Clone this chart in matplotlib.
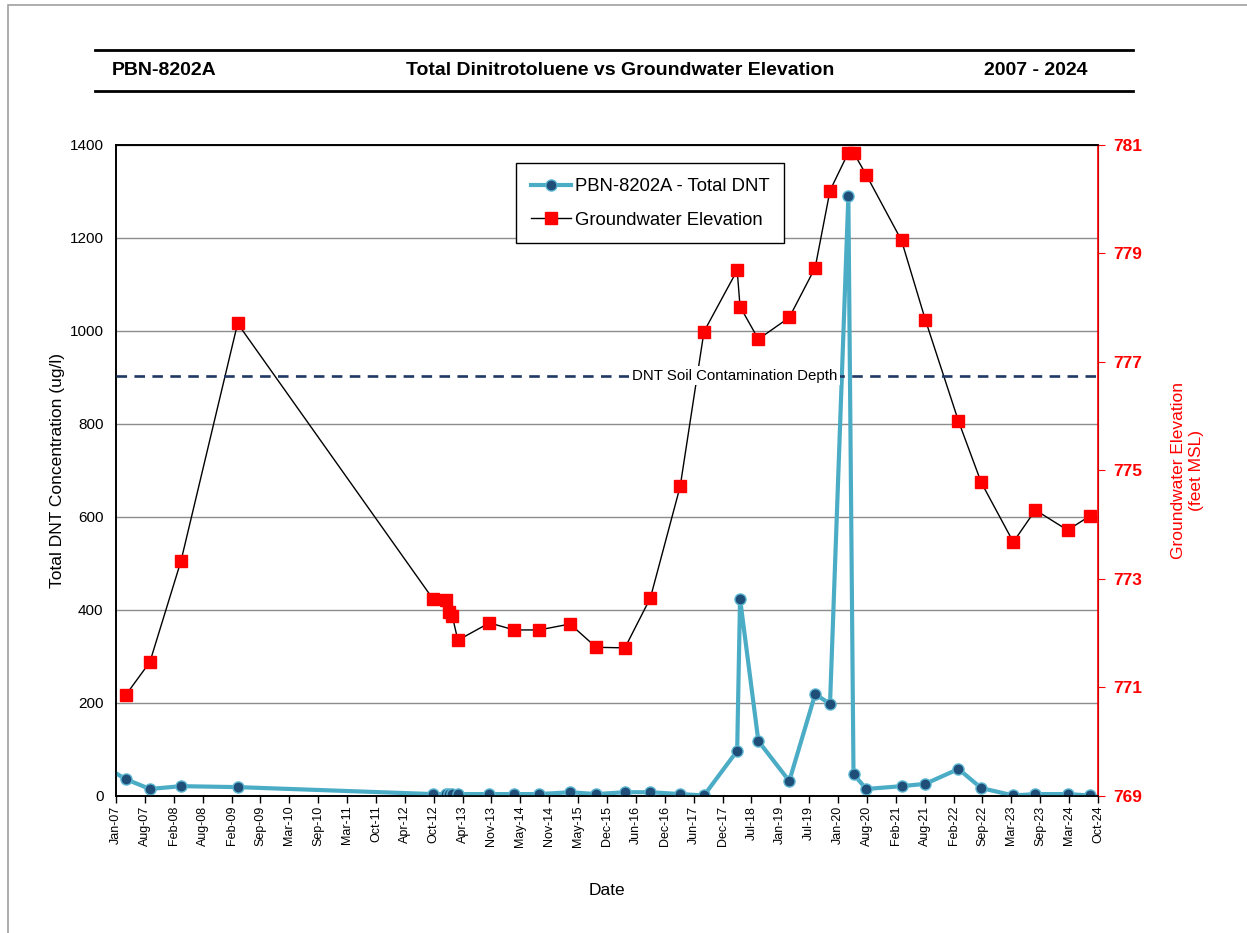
import numpy as np
import matplotlib
matplotlib.use("Agg")
import matplotlib.pyplot as plt
import matplotlib.dates as mdates
from matplotlib.lines import Line2D
from matplotlib.patches import Rectangle
from matplotlib.transforms import blended_transform_factory

plt.rcParams['font.family'] = ['Liberation Sans', 'DejaVu Sans']

# sample dates (shared by both series)
dates = ['2007-03-07', '2007-08-13', '2008-03-05', '2009-03-14', '2012-09-24',
         '2012-12-19', '2013-01-08', '2013-01-30', '2013-03-07', '2013-10-01',
         '2014-03-14', '2014-08-26', '2015-03-18', '2015-09-06', '2016-03-14',
         '2016-08-29', '2017-03-14', '2017-08-18', '2018-03-25', '2018-04-13',
         '2018-08-12', '2019-03-04', '2019-08-22', '2019-11-28', '2020-03-28',
         '2020-05-01', '2020-07-24', '2021-03-14', '2021-08-18', '2022-03-25',
         '2022-08-22', '2023-03-22', '2023-08-15', '2024-03-14', '2024-08-08']

# one earlier DNT sample falls left of the axis (line enters from the edge)
dnt_dates = ['2006-09-15'] + dates
dnt = [70, 36, 15, 21, 19, 4, 4, 4, 4, 4, 4, 4, 4, 8, 4, 8, 8, 4, 1, 97, 424,
       118, 32, 219, 198, 1290, 47, 15, 21, 26, 58, 17, 1, 4, 4, 1]

gw_elev = [770.86, 771.47, 773.33, 777.71, 772.63, 772.61, 772.39, 772.31,
           771.87, 772.19, 772.06, 772.06, 772.17, 771.74, 771.73, 772.65,
           774.71, 777.56, 778.69, 778.02, 777.42, 777.82, 778.74, 780.16,
           780.86, 780.86, 780.45, 779.24, 777.78, 775.91, 774.78, 773.68,
           774.27, 773.90, 774.16]

soil_depth = 776.75

tick_labels = ['Jan-07', 'Aug-07', 'Feb-08', 'Aug-08', 'Feb-09', 'Sep-09',
               'Mar-10', 'Sep-10', 'Mar-11', 'Oct-11', 'Apr-12', 'Oct-12',
               'Apr-13', 'Nov-13', 'May-14', 'Nov-14', 'May-15', 'Dec-15',
               'Jun-16', 'Dec-16', 'Jun-17', 'Dec-17', 'Jul-18', 'Jan-19',
               'Jul-19', 'Jan-20', 'Aug-20', 'Feb-21', 'Aug-21', 'Feb-22',
               'Sep-22', 'Mar-23', 'Sep-23', 'Mar-24', 'Oct-24']

x_start = mdates.datestr2num('2007-01-01')
x_end = mdates.datestr2num('2024-10-01')

fig = plt.figure(figsize=(12.47, 9.33), dpi=100)
ax = fig.add_axes([0.093, 0.1469, 0.7875, 0.6977])
ax2 = ax.twinx()

# DNT series
ax.plot(mdates.datestr2num(dnt_dates), dnt, color='#4BACC6', lw=3,
        marker='o', ms=8, mfc='#1F4E79', mec='#5DB7D2', mew=1,
        label='PBN-8202A - Total DNT', zorder=3)
ax.set_ylim(0, 1400)
ax.set_yticks(np.arange(0, 1401, 200))
ax.yaxis.grid(True, color='#8C8C8C', lw=1)
ax.set_axisbelow(True)
ax.tick_params(axis='y', length=0, labelsize=11, pad=9)
ax.set_ylabel('Total DNT Concentration (ug/l)', fontsize=12.5, labelpad=3)

ax.set_xlim(x_start, x_end)
ax.set_xticks(np.linspace(x_start, x_end, len(tick_labels)))
ax.set_xticklabels(tick_labels, rotation=90, fontsize=9)
ax.tick_params(axis='x', direction='out', length=5, width=1, pad=2)
ax.set_xlabel('Date', fontsize=12.5, labelpad=26)

# groundwater series
ax2.plot(mdates.datestr2num(dates), gw_elev, color='black', lw=1,
         marker='s', ms=8, mfc='#FF0000', mec='#FF0000',
         label='Groundwater Elevation', zorder=3)
ax2.set_ylim(769, 781)
ax2.set_yticks(np.arange(769, 782, 2))
ax2.tick_params(axis='y', colors='#FF0000', direction='out', length=5,
                labelsize=12.5, pad=6)
for lab in ax2.get_yticklabels():
    lab.set_fontweight('bold')
ax2.spines['right'].set_color('#FF0000')
ax2.spines['right'].set_linewidth(1.2)
ax2.set_ylabel('Groundwater Elevation\n(feet MSL)', color='#FF0000',
               fontsize=12.5, labelpad=21)

for a in (ax, ax2):
    for s in ('left', 'top', 'bottom'):
        a.spines[s].set_color('black')
        a.spines[s].set_linewidth(1.2)

# soil contamination depth
ax2.axhline(soil_depth, color='#1F3864', lw=1.9, dashes=(4, 2.8), zorder=4)
ax2.text(0.63, soil_depth, 'DNT Soil Contamination Depth',
         transform=blended_transform_factory(ax2.transAxes, ax2.transData),
         ha='center', va='center', fontsize=10.8, zorder=5,
         bbox=dict(facecolor='white', edgecolor='none', pad=2))

h1, l1 = ax.get_legend_handles_labels()
h2, l2 = ax2.get_legend_handles_labels()
leg = ax2.legend(h1 + h2, l1 + l2, loc='upper left',
                 bbox_to_anchor=(0.4073, 0.972), borderaxespad=0,
                 fontsize=13.3, frameon=True, fancybox=False,
                 edgecolor='black', framealpha=1, handlelength=2.2,
                 labelspacing=0.9, borderpad=0.8, handletextpad=0.2)
leg.get_frame().set_linewidth(1)
leg.set_zorder(10)

# header band
for yy in (0.9464, 0.9025):
    fig.add_artist(Line2D([0.0762, 0.9086], [yy, yy], color='black', lw=2))
fig.text(0.0898, 0.924, 'PBN-8202A', fontsize=14, fontweight='bold',
         ha='left', va='center')
fig.text(0.497, 0.924, 'Total Dinitrotoluene vs Groundwater Elevation',
         fontsize=14, fontweight='bold', ha='center', va='center')
fig.text(0.872, 0.924, '2007 - 2024', fontsize=14, fontweight='bold',
         ha='right', va='center')

# outer page border
fig.add_artist(Rectangle((8 / 1247, -0.1), 1.2, 1.1 - 5 / 933,
                         transform=fig.transFigure, fill=False,
                         edgecolor='#A0A0A0', lw=1.2))

fig.savefig('out.png', dpi=100)
